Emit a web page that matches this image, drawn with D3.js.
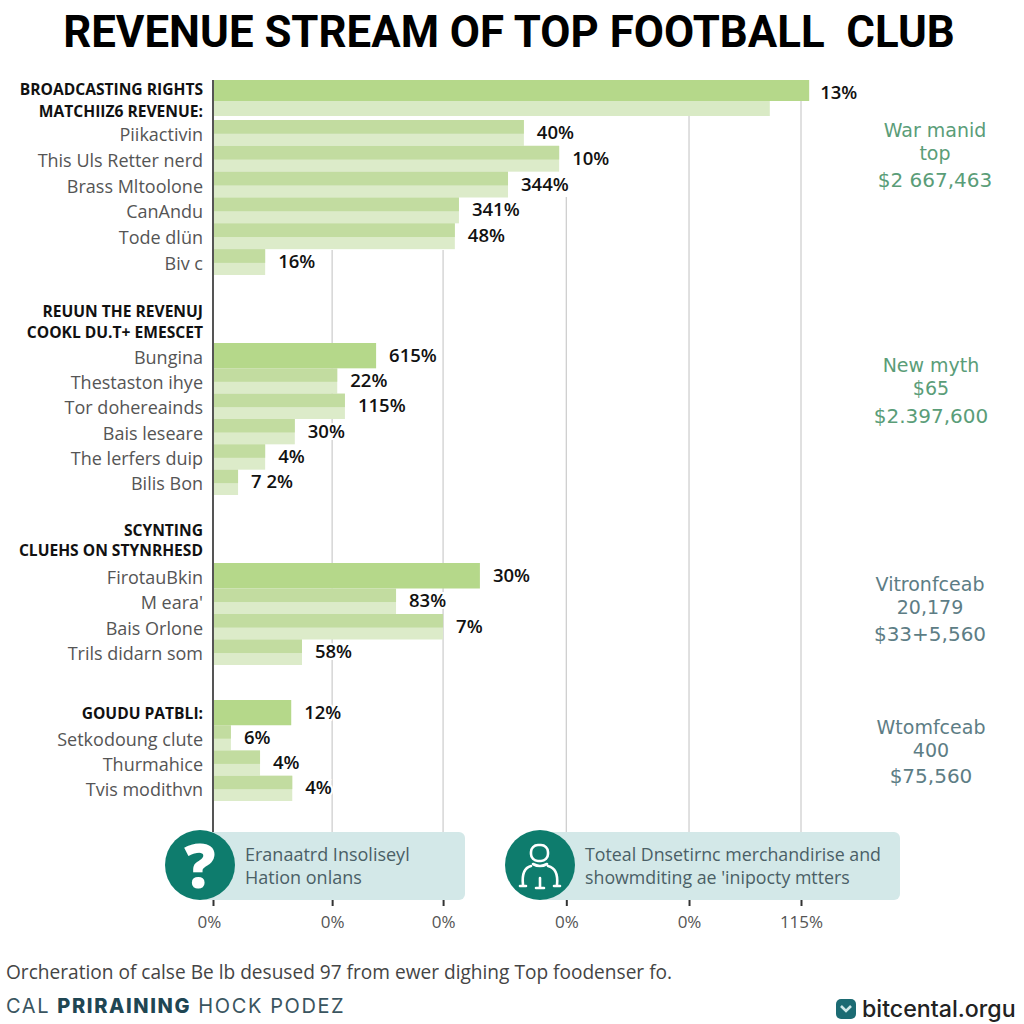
<!DOCTYPE html>
<html><head><meta charset="utf-8">
<script src="https://cdn.jsdelivr.net/npm/d3@7"></script>
<style>
html,body{margin:0;padding:0;background:#fff}
svg{display:block}
text{white-space:pre}
</style></head><body>
<svg id="c" width="1024" height="1024"></svg>
<script>
const titleText = "REVENUE STREAM OF TOP FOOTBALL  CLUB";
const tickValues = [0, 23.3, 45, 69.1, 93.1, 115];
const tickLabels = ["0%", "0%", "0%", "0%", "0%", "115%"];

const headRowLabels = ["BROADCASTING RIGHTS", "MATCHIIZ6 REVENUE:"];
const headRowDark = 116.6, headRowLight = 108.9, headRowText = "13%";

const g1Labels = ["Piikactivin", "This Uls Retter nerd", "Brass Mltoolone", "CanAndu", "Tode dlün", "Biv c"];
const g1Values = [60.8, 67.7, 57.7, 48.1, 47.3, 10.2];
const g1Text = ["40%", "10%", "344%", "341%", "48%", "16%"];

const g2Heads = ["REUUN THE REVENUJ", "COOKL DU.T+ EMESCET"];
const g2Labels = ["Bungina", "Thestaston ihye", "Tor dohereainds", "Bais leseare", "The lerfers duip", "Bilis Bon"];
const g2Values = [31.9, 24.3, 25.8, 16, 10.2, 4.9];
const g2Text = ["615%", "22%", "115%", "30%", "4%", "7 2%"];

const g3Heads = ["SCYNTING", "CLUEHS ON STYNRHESD"];
const g3Labels = ["FirotauBkin", "M eara'", "Bais Orlone", "Trils didarn som"];
const g3Values = [52.2, 35.8, 45, 17.4];
const g3Text = ["30%", "83%", "7%", "58%"];

const g4Labels = ["GOUDU PATBLI:", "Setkodoung clute", "Thurmahice", "Tvis modithvn"];
const g4Values = [15.3, 3.5, 9.2, 15.5];
const g4Text = ["12%", "6%", "4%", "4%"];

const note1 = ["War manid", "top", "$2 667,463"];
const note2 = ["New myth", "$65", "$2.397,600"];
const note3 = ["Vitronfceab", "20,179", "$33+5,560"];
const note4 = ["Wtomfceab", "400", "$75,560"];
const box1Text = ["Eranaatrd Insoliseyl", "Hation onlans"];
const box2Text = ["Toteal Dnsetirnc merchandirise and", "showmditing ae 'inipocty mtters"];
const footNote = "Orcheration of calse Be lb desused 97 from ewer dighing Top foodenser fo.";
const brandParts = ["CAL ", "PRIRAINING", " HOCK PODEZ"];
const siteText = "bitcental.orgu";

const svg = d3.select("#c");
const font = "'Open Sans', sans-serif";
const x = d3.scaleLinear().domain([0, 115]).range([213, 801]);

// grid
const gridTops = [213, 250, 250, 197, 116, 101];
svg.append("g").selectAll("line").data(tickValues.slice(1)).join("line")
  .attr("x1", d => x(d)).attr("x2", d => x(d))
  .attr("y1", (d, i) => gridTops[i + 1]).attr("y2", 832)
  .attr("stroke", "#cfcfcf").attr("stroke-width", 1.3);

// axis
const axis = d3.axisBottom(x).tickValues(tickValues)
  .tickFormat((d, i) => tickLabels[i]).tickSize(6).tickPadding(10);
const ax = svg.append("g").attr("transform", "translate(0,900)").call(axis);
ax.select(".domain").remove();
ax.selectAll("line").attr("stroke", "#333").attr("stroke-width", 2);
ax.selectAll("text").attr("font-family", font).attr("font-size", 17).attr("fill", "#555")
  .attr("dx", (d, i) => i === 0 ? -4 : 0);

// bars
function rows(labels, values, texts, y0, y1, solidFirst) {
  const y = d3.scaleBand().domain(d3.range(labels.length)).range([y0, y1]);
  const g = svg.append("g");
  labels.forEach((lab, i) => {
    const top = y(i), h = y.bandwidth(), solid = solidFirst && i === 0;
    g.append("rect").attr("x", x(0)).attr("y", top).attr("width", x(values[i]) - x(0)).attr("height", h)
      .attr("fill", solid ? "#b5d88a" : "#dcebc9");
    if (!solid) g.append("rect").attr("x", x(0)).attr("y", top).attr("width", x(values[i]) - x(0)).attr("height", h * 0.53)
      .attr("fill", "#c2dca0");
    const bold = solidFirst === "bold" && i === 0;
    g.append("text").attr("x", 203).attr("y", top + h / 2 + (bold ? 6 : 8)).attr("text-anchor", "end")
      .attr("font-family", font).attr("font-size", bold ? 15.6 : 18)
      .attr("font-weight", bold ? 700 : 400).attr("fill", bold ? "#111" : "#555").text(lab);
    g.append("text").attr("x", x(values[i]) + 13).attr("y", top + h / 2 + 6)
      .attr("stroke", "#fff").attr("stroke-width", 4).attr("paint-order", "stroke")
      .attr("font-family", font).attr("font-size", 18.5).attr("font-weight", 600).attr("fill", "#111").text(texts[i]);
  });
}

// head row
svg.append("rect").attr("x", x(0)).attr("y", 80).attr("width", x(headRowDark) - x(0)).attr("height", 21).attr("fill", "#b5d88a");
svg.append("rect").attr("x", x(0)).attr("y", 101).attr("width", x(headRowLight) - x(0)).attr("height", 15).attr("fill", "#d9eac5");
svg.append("text").attr("x", x(headRowDark) + 11).attr("y", 99).attr("font-family", font).attr("font-size", 18.5).attr("font-weight", 600).attr("fill", "#111").text(headRowText);

rows(g1Labels, g1Values, g1Text, 120, 275, false);
rows(g2Labels, g2Values, g2Text, 343, 495, true);
rows(g3Labels, g3Values, g3Text, 563, 665, true);
rows(g4Labels, g4Values, g4Text, 700, 801, "bold");

// axis line
svg.append("line").attr("x1", x(0)).attr("x2", x(0)).attr("y1", 80).attr("y2", 832).attr("stroke", "#555").attr("stroke-width", 2);

// bold headers
function heads(lines, ys) {
  lines.forEach((t, i) => svg.append("text").attr("x", 203).attr("y", ys[i]).attr("text-anchor", "end")
    .attr("font-family", font).attr("font-size", 15.6).attr("font-weight", 700).attr("fill", "#111").text(t));
}
heads(headRowLabels, [95, 117]);
heads(g2Heads, [317, 338]);
heads(g3Heads, [536, 556]);

// notes
function note(lines, cx, ys, color) {
  lines.forEach((s, i) => svg.append("text").attr("x", cx).attr("y", ys[i]).attr("text-anchor", "middle")
    .attr("font-family", "'DejaVu Sans', sans-serif").attr("fill", color)
    .attr("font-size", i === 2 ? 20 : 19).text(s));
}
note(note1, 935, [137, 160, 187], "#5a9d78");
note(note2, 931, [372, 395, 423], "#5a9d78");
note(note3, 930, [591, 614, 641], "#5d7d85");
note(note4, 931, [734, 757, 783], "#5d7d85");

// callout boxes
svg.append("rect").attr("x", 200).attr("y", 832).attr("width", 265).attr("height", 68).attr("rx", 6).attr("fill", "#d3e8e8");
svg.append("rect").attr("x", 540).attr("y", 832).attr("width", 360).attr("height", 68).attr("rx", 6).attr("fill", "#d3e8e8");
svg.append("circle").attr("cx", 200).attr("cy", 865).attr("r", 35).attr("fill", "#0e7c6d");
svg.append("circle").attr("cx", 540).attr("cy", 865).attr("r", 35).attr("fill", "#0e7c6d");
svg.append("text").attr("x", 200).attr("y", 888).attr("text-anchor", "middle").attr("font-family", font)
  .attr("font-size", 62).attr("font-weight", 800).attr("fill", "#fff").text("?");
const p = svg.append("g").attr("fill", "none").attr("stroke", "#fff").attr("stroke-width", 2.6).attr("stroke-linecap", "round");
p.append("rect").attr("x", 531).attr("y", 845).attr("width", 17).attr("height", 16).attr("rx", 7);
p.append("path").attr("d", "M533 864 Q540 868 547 864");
p.append("path").attr("d", "M531 866 C523 868 522 876 523 885 M548 866 C556 868 558 876 557 885");
p.append("path").attr("d", "M520 886 H526 M554 886 H560 M540 878 V887 M536 888 H544");
box1Text.forEach((t, i) => svg.append("text").attr("x", 245).attr("y", [861, 884][i]).attr("font-family", font).attr("font-size", 18).attr("fill", "#4a5f66").text(t));
box2Text.forEach((t, i) => svg.append("text").attr("x", 585).attr("y", [861, 884][i]).attr("font-family", font).attr("font-size", 17.8).attr("fill", "#4a5f66").text(t));

// footer
svg.append("text").attr("x", 6).attr("y", 979).attr("font-family", font).attr("font-size", 19.1).attr("fill", "#444").text(footNote);
const b = svg.append("text").attr("x", 6).attr("y", 1013).attr("font-family", "Inter, sans-serif").attr("font-size", 20).attr("letter-spacing", 1.6).attr("fill", "#3a5560");
brandParts.forEach((t, i) => b.append("tspan").attr("font-weight", i === 1 ? 800 : 400).attr("fill", i === 1 ? "#1f4653" : "#3a5560").text(t));
svg.append("rect").attr("x", 836).attr("y", 999).attr("width", 20).attr("height", 20).attr("rx", 5).attr("fill", "#1c6b73");
svg.append("path").attr("d", "M841 1006 L846 1011 L851 1006").attr("fill", "none").attr("stroke", "#cfe8e8").attr("stroke-width", 2.6);
svg.append("text").attr("x", 862).attr("y", 1017).attr("font-family", "Inter, sans-serif").attr("font-size", 23.2).attr("font-weight", 500).attr("fill", "#222").text(siteText);

// title
svg.append("text").attr("x", 509).attr("y", 47).attr("text-anchor", "middle").attr("font-family", "Roboto, sans-serif")
  .attr("font-size", 43.8).attr("font-weight", 700).attr("fill", "#000").text(titleText);
</script></body></html>
